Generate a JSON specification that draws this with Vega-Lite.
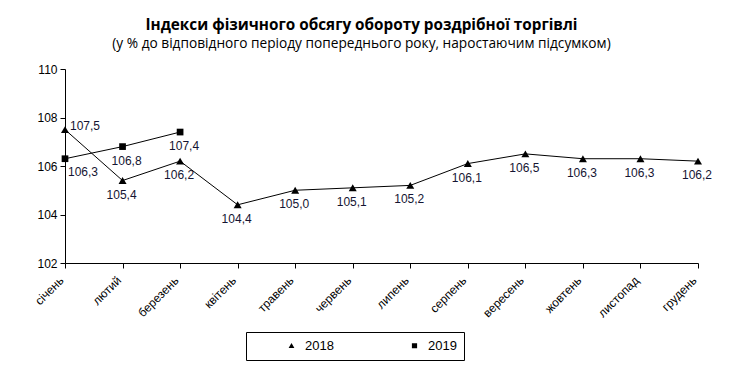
{
  "$schema": "https://vega.github.io/schema/vega-lite/v6.json",
  "width": 633,
  "height": 194,
  "autosize": {"type": "none"},
  "padding": {"left": 65, "top": 69, "right": 44, "bottom": 104},
  "background": "white",
  "config": {
    "locale": {"number": {"decimal": ",", "thousands": " ", "grouping": [3], "currency": ["", ""]}},
    "view": {"stroke": null},
    "font": "Liberation Sans"
  },
  "title": {
    "text": "Індекси фізичного обсягу обороту роздрібної торгівлі",
    "subtitle": "(у % до відповідного періоду попереднього року, наростаючим підсумком)",
    "font": "Open Sans",
    "fontSize": 15.3,
    "fontWeight": "bold",
    "color": "black",
    "subtitleFont": "Open Sans",
    "subtitleFontSize": 13.7,
    "subtitleColor": "black",
    "anchor": "middle",
    "dx": -20,
    "offset": 12,
    "subtitlePadding": 4
  },
  "data": {
    "values": [
      {"month": "січень", "year": "2018", "value": 107.5},
      {"month": "лютий", "year": "2018", "value": 105.4},
      {"month": "березень", "year": "2018", "value": 106.2},
      {"month": "квітень", "year": "2018", "value": 104.4},
      {"month": "травень", "year": "2018", "value": 105.0},
      {"month": "червень", "year": "2018", "value": 105.1},
      {"month": "липень", "year": "2018", "value": 105.2},
      {"month": "серпень", "year": "2018", "value": 106.1},
      {"month": "вересень", "year": "2018", "value": 106.5},
      {"month": "жовтень", "year": "2018", "value": 106.3},
      {"month": "листопад", "year": "2018", "value": 106.3},
      {"month": "грудень", "year": "2018", "value": 106.2},
      {"month": "січень", "year": "2019", "value": 106.3},
      {"month": "лютий", "year": "2019", "value": 106.8},
      {"month": "березень", "year": "2019", "value": 107.4}
    ]
  },
  "encoding": {
    "x": {
      "field": "month",
      "type": "ordinal",
      "sort": ["січень", "лютий", "березень", "квітень", "травень", "червень", "липень", "серпень", "вересень", "жовтень", "листопад", "грудень"],
      "scale": {"type": "point", "padding": 0},
      "axis": {
        "title": null,
        "labelAngle": -45,
        "labelAlign": "right",
        "labelBaseline": "middle",
        "labelPadding": 10,
        "labelOffset": -4,
        "tickSize": 5,
        "domainColor": "black",
        "tickColor": "black",
        "labelColor": "black",
        "labelFont": "Liberation Sans",
        "labelFontSize": 12,
        "grid": false
      }
    },
    "y": {
      "field": "value",
      "type": "quantitative",
      "scale": {"domain": [102, 110], "nice": false, "zero": false},
      "axis": {
        "title": null,
        "values": [102, 104, 106, 108, 110],
        "format": "d",
        "grid": false,
        "tickSize": 5,
        "labelPadding": 3,
        "domainColor": "black",
        "tickColor": "black",
        "labelColor": "black",
        "labelFont": "Liberation Sans",
        "labelFontSize": 12
      }
    }
  },
  "layer": [
    {
      "mark": {"type": "line", "color": "black", "strokeWidth": 1},
      "encoding": {"detail": {"field": "year"}}
    },
    {
      "transform": [{"filter": "datum.year == 'none'"}],
      "mark": {"type": "point", "filled": true, "fill": "black", "stroke": "black", "strokeWidth": 1, "strokeOpacity": 1, "opacity": 1},
      "encoding": {
        "shape": {
          "field": "year",
          "type": "nominal",
          "scale": {"domain": ["2018", "2019"], "range": ["M-3.9,0L3.9,0M-0.72,0.55L0,-0.7L0.72,0.55Z", "M-3.75,0L3.75,0M-0.65,-0.65L0.65,-0.65L0.65,0.65L-0.65,0.65Z"]},
          "legend": {
            "title": " ",
            "titleOrient": "left",
            "titlePadding": 32,
            "orient": "none",
            "legendX": 181,
            "legendY": 263,
            "direction": "horizontal",
            "padding": 7,
            "strokeColor": "black",
            "fillColor": "white",
            "symbolSize": 64,
            "symbolStrokeWidth": 1,
            "symbolOpacity": 1,
            "symbolFillColor": "black",
            "symbolStrokeColor": "black",
            "labelFont": "Liberation Sans",
            "labelFontSize": 13,
            "labelColor": "black",
            "labelOffset": 7,
            "columnPadding": 63
          }
        }
      }
    },
    {
      "transform": [{"filter": "datum.year == '2018'"}],
      "mark": {"type": "point", "shape": "triangle-up", "filled": true, "color": "black", "opacity": 1, "size": 64}
    },
    {
      "transform": [{"filter": "datum.year == '2019'"}],
      "mark": {"type": "point", "shape": "square", "filled": true, "color": "black", "opacity": 1, "size": 45}
    },
    {
      "transform": [{"filter": "datum.year == '2018' && datum.month != 'січень'"}],
      "mark": {"type": "text", "font": "Liberation Sans", "fontSize": 12, "color": "#141432", "dy": 14, "dx": -1, "baseline": "middle"},
      "encoding": {"text": {"field": "value", "type": "quantitative", "format": ".1f"}}
    },
    {
      "transform": [{"filter": "datum.year == '2018' && datum.month == 'січень'"}],
      "mark": {"type": "text", "font": "Liberation Sans", "fontSize": 12, "color": "#141432", "dy": -4, "dx": 5, "align": "left", "baseline": "middle"},
      "encoding": {"text": {"field": "value", "type": "quantitative", "format": ".1f"}}
    },
    {
      "transform": [{"filter": "datum.year == '2019' && datum.month == 'січень'"}],
      "mark": {"type": "text", "font": "Liberation Sans", "fontSize": 12, "color": "#141432", "dy": 13, "dx": 3, "align": "left", "baseline": "middle"},
      "encoding": {"text": {"field": "value", "type": "quantitative", "format": ".1f"}}
    },
    {
      "transform": [{"filter": "datum.year == '2019' && datum.month != 'січень'"}],
      "mark": {"type": "text", "font": "Liberation Sans", "fontSize": 12, "color": "#141432", "dy": 14, "dx": 4, "baseline": "middle"},
      "encoding": {"text": {"field": "value", "type": "quantitative", "format": ".1f"}}
    }
  ]
}
